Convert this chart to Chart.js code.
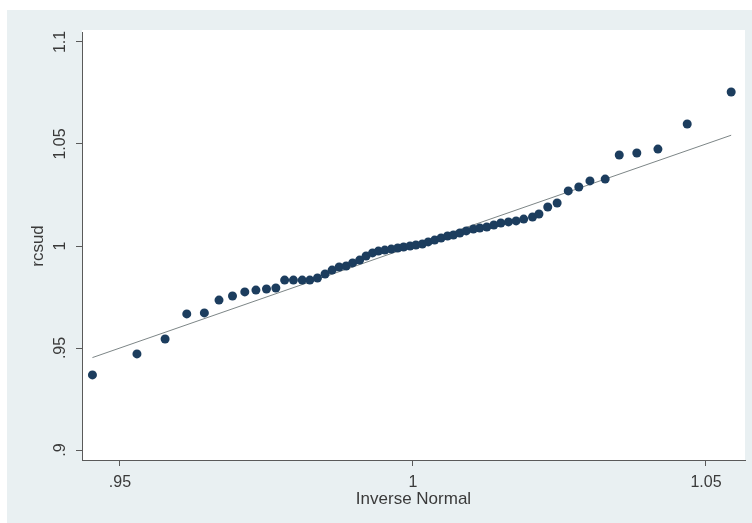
<!DOCTYPE html>
<html>
<head>
<meta charset="utf-8">
<script src="https://cdn.jsdelivr.net/npm/chart.js@4.4.1/dist/chart.umd.min.js"></script>
<style>
  html, body { margin: 0; padding: 0; background: #fff; }
  #wrap { width: 752px; height: 523px; position: relative; }
</style>
</head>
<body>
<div id="wrap"><canvas id="qqChart"></canvas></div>
<script>
// normal quantiles (x) against sorted rcsud values (y)
const invNormal = [
  0.9453, 0.9529, 0.9577, 0.9614, 0.9644, 0.9669, 0.9692, 0.9713, 0.9732, 0.9750,
  0.9766, 0.9781, 0.9796, 0.9811, 0.9824, 0.9837, 0.9850, 0.9862, 0.9874, 0.9886,
  0.9897, 0.9909, 0.9920, 0.9931, 0.9941, 0.9952, 0.9963, 0.9974, 0.9984, 0.9995,
  1.0005, 1.0016, 1.0026, 1.0037, 1.0048, 1.0059, 1.0069, 1.0080, 1.0091, 1.0103,
  1.0114, 1.0126, 1.0138, 1.0150, 1.0163, 1.0176, 1.0189, 1.0204, 1.0215, 1.0230,
  1.0246, 1.0265, 1.0283, 1.0302, 1.0328, 1.0352, 1.0382, 1.0418, 1.0468, 1.0543
];
const rcsud = [
  0.9368, 0.9471, 0.9544, 0.9667, 0.9672, 0.9735, 0.9755, 0.9775, 0.9784, 0.9789,
  0.9794, 0.9833, 0.9833, 0.9833, 0.9833, 0.9843, 0.9863, 0.9882, 0.9897, 0.9902,
  0.9917, 0.9931, 0.9951, 0.9966, 0.9975, 0.9980, 0.9985, 0.9990, 0.9995, 1.0000,
  1.0005, 1.0010, 1.0020, 1.0029, 1.0039, 1.0049, 1.0054, 1.0064, 1.0074, 1.0083,
  1.0088, 1.0093, 1.0103, 1.0113, 1.0118, 1.0123, 1.0132, 1.0142, 1.0157, 1.0191,
  1.0211, 1.0270, 1.0289, 1.0319, 1.0328, 1.0446, 1.0456, 1.0475, 1.0598, 1.0755
];
// 45 degree reference line endpoints
const refLine = [0.9453, 1.0543];

const xTickValues = [0.95, 1, 1.05];
const xTickLabels = ['.95', '1', '1.05'];
const yTickValues = [0.9, 0.95, 1, 1.05, 1.1];
const yTickLabels = ['.9', '.95', '1', '1.05', '1.1'];

const FONT = "'Liberation Sans', Arial, sans-serif";
const TEXT = '#3a3a3a';
const AXIS = '#5a5a5a';

// backgrounds + rotated y labels + axis titles
const stataFrame = {
  id: 'stataFrame',
  beforeDraw(chart) {
    const { ctx, chartArea: a } = chart;
    ctx.save();
    ctx.fillStyle = '#ffffff';
    ctx.fillRect(0, 0, chart.width, chart.height);
    ctx.fillStyle = '#e9f0f2';
    ctx.fillRect(7, 10, chart.width - 7, chart.height - 10);
    ctx.fillStyle = '#ffffff';
    ctx.fillRect(a.left, a.top - 2, a.right - a.left, a.bottom - a.top + 2);
    ctx.restore();
  },
  afterDraw(chart) {
    const { ctx, chartArea: a } = chart;
    const y = chart.scales.y;
    ctx.save();
    ctx.fillStyle = TEXT;
    ctx.font = '16px ' + FONT;
    ctx.textAlign = 'center';
    ctx.textBaseline = 'middle';
    yTickValues.forEach((v, i) => {
      const py = y.getPixelForValue(v);
      ctx.save();
      ctx.translate(61, py);
      ctx.rotate(-Math.PI / 2);
      ctx.fillText(yTickLabels[i], 0, 0);
      ctx.restore();
    });
    ctx.font = '17px ' + FONT;
    ctx.save();
    ctx.translate(38, (a.top + a.bottom) / 2);
    ctx.rotate(-Math.PI / 2);
    ctx.fillText('rcsud', 0, 0);
    ctx.restore();
    ctx.fillText('Inverse Normal', (a.left + a.right) / 2, 499);
    ctx.restore();
  }
};

const ctx = document.getElementById('qqChart').getContext('2d');
new Chart(ctx, {
  type: 'scatter',
  data: {
    datasets: [{
      label: 'rcsud',
      data: invNormal.map((x, i) => ({ x: x, y: rcsud[i] })),
      backgroundColor: '#1c3d5e',
      borderColor: '#1c3d5e',
      pointRadius: 4.5,
      pointBorderWidth: 0
    }, {
      type: 'line',
      label: 'Inverse Normal',
      data: refLine.map(v => ({ x: v, y: v })),
      borderColor: '#7d8687',
      borderWidth: 1,
      pointRadius: 0,
      fill: false
    }]
  },
  options: {
    responsive: true,
    maintainAspectRatio: false,
    animation: false,
    layout: { padding: { top: 32, right: 7, left: 0, bottom: 0 } },
    plugins: {
      legend: { display: false },
      tooltip: { enabled: false }
    },
    scales: {
      x: {
        type: 'linear',
        min: 0.94352,
        max: 1.05666,
        afterBuildTicks: s => { s.ticks = xTickValues.map(v => ({ value: v })); },
        afterFit: s => { s.height = 63; },
        ticks: {
          callback: (v) => xTickLabels[xTickValues.indexOf(v)],
          font: { family: FONT, size: 16 },
          color: TEXT,
          padding: 7,
          maxRotation: 0
        },
        grid: { drawOnChartArea: false, drawTicks: true, tickLength: 6, color: AXIS },
        border: { display: true, color: AXIS, width: 1 }
      },
      y: {
        type: 'linear',
        min: 0.8951,
        max: 1.1049,
        afterBuildTicks: s => { s.ticks = yTickValues.map(v => ({ value: v })); },
        afterFit: s => { s.width = 82; },
        ticks: {
          callback: () => '',
          font: { family: FONT, size: 16 }
        },
        grid: { drawOnChartArea: false, drawTicks: true, tickLength: 6, color: AXIS },
        border: { display: true, color: AXIS, width: 1 }
      }
    }
  },
  plugins: [stataFrame]
});
</script>
</body>
</html>
